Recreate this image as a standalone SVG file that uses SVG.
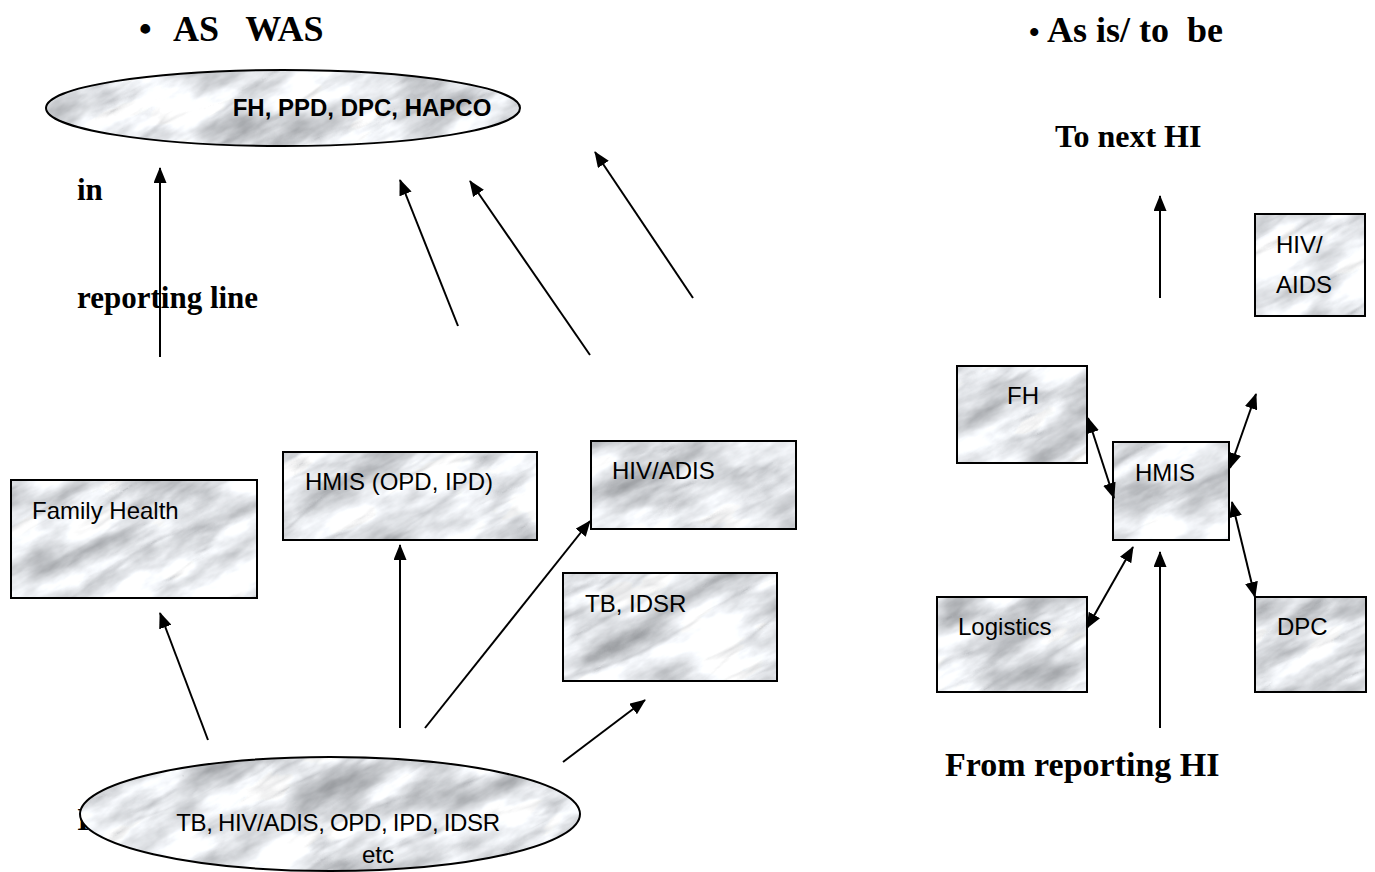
<svg xmlns="http://www.w3.org/2000/svg" width="1375" height="872" viewBox="0 0 1375 872">
  <style>
    .hd { font-family: "Liberation Serif", "Times New Roman", serif; font-weight: bold; fill: #000; }
    .lbl { font-family: "Liberation Sans", Arial, sans-serif; font-size: 24px; fill: #000; }
    .node { fill: url(#marble); stroke: #000; stroke-width: 2; }
    .link { fill: none; stroke: #000; stroke-width: 2; }
  </style>
  <defs>
    <!-- soft grey marble texture used by every box and ellipse -->
    <filter id="marbleFx" x="0" y="0" width="100%" height="100%" color-interpolation-filters="sRGB">
      <feTurbulence type="fractalNoise" baseFrequency="0.012 0.03" numOctaves="5" seed="23" result="n"/>
      <feColorMatrix in="n" type="matrix" values="0.7 0 0 0 0.55  0.7 0 0 0 0.56  0.7 0 0 0 0.575  0 0 0 0 1" result="base"/>
      <feTurbulence type="turbulence" baseFrequency="0.006 0.025" numOctaves="4" seed="5" result="v"/>
      <feColorMatrix in="v" type="matrix" values="0 0 0 0 0.5  0 0 0 0 0.51  0 0 0 0 0.53  -1.4 0 0 0 0.32" result="veins"/>
      <feComposite in="veins" in2="base" operator="over"/>
    </filter>
    <pattern id="marble" patternUnits="userSpaceOnUse" x="0" y="0" width="1375" height="872">
      <g transform="rotate(-28 687 436)">
        <rect x="-500" y="-500" width="2400" height="1900" fill="#fff" filter="url(#marbleFx)"/>
      </g>
    </pattern>
    <marker id="ah" viewBox="0 0 16 13" refX="15" refY="6.5" markerWidth="16" markerHeight="13" markerUnits="userSpaceOnUse" orient="auto-start-reverse">
      <path d="M0,0 L16,6.5 L0,13 z" fill="#000"/>
    </marker>
  </defs>

  <rect width="1375" height="872" fill="#fff"/>

  <!-- headings and free text -->
  <g id="headings">
    <text class="hd" x="139" y="41" font-size="36">•</text>
    <text class="hd" x="173" y="41" font-size="36" xml:space="preserve">AS   WAS</text>
    <text class="hd" x="1029" y="42" font-size="30">•</text>
    <text class="hd" x="1047" y="42" font-size="36" xml:space="preserve">As is/ to  be</text>
    <text class="hd" x="1055" y="147" font-size="32">To next HI</text>
    <text class="hd" x="77" y="200" font-size="31">in</text>
    <text class="hd" x="77" y="308" font-size="31">reporting line</text>
    <text class="hd" x="77" y="830" font-size="31">I</text>
    <text class="hd" x="945" y="776" font-size="34">From reporting HI</text>
  </g>

  <!-- left side: previous reporting structure -->
  <g id="programs-top">
    <ellipse class="node" cx="283" cy="108" rx="237" ry="38"/>
    <text class="lbl" x="362" y="116" font-weight="bold" text-anchor="middle">FH, PPD, DPC, HAPCO</text>
  </g>
  <g id="family-health">
    <rect class="node" x="11" y="480" width="246" height="118"/>
    <text class="lbl" x="32" y="519" font-size="25">Family Health</text>
  </g>
  <g id="hmis-opd-ipd">
    <rect class="node" x="283" y="452" width="254" height="88"/>
    <text class="lbl" x="305" y="490">HMIS (OPD, IPD)</text>
  </g>
  <g id="hiv-adis">
    <rect class="node" x="591" y="441" width="205" height="88"/>
    <text class="lbl" x="612" y="479">HIV/ADIS</text>
  </g>
  <g id="tb-idsr">
    <rect class="node" x="563" y="573" width="214" height="108"/>
    <text class="lbl" x="585" y="612">TB, IDSR</text>
  </g>
  <g id="facility-sources">
    <ellipse class="node" cx="330" cy="814" rx="250" ry="57"/>
    <text class="lbl" x="338" y="831" font-size="22" word-spacing="-1" letter-spacing="-0.3" text-anchor="middle">TB, HIV/ADIS, OPD, IPD, IDSR</text>
    <text class="lbl" x="378" y="863" font-size="22" text-anchor="middle">etc</text>
  </g>

  <!-- right side: integrated structure -->
  <g id="fh">
    <rect class="node" x="957" y="366" width="130" height="97"/>
    <text class="lbl" x="1007" y="404">FH</text>
  </g>
  <g id="hmis">
    <rect class="node" x="1113" y="442" width="116" height="98"/>
    <text class="lbl" x="1135" y="481">HMIS</text>
  </g>
  <g id="hiv-aids">
    <rect class="node" x="1255" y="214" width="110" height="102"/>
    <text class="lbl" x="1276" y="253">HIV/</text>
    <text class="lbl" x="1276" y="293">AIDS</text>
  </g>
  <g id="logistics">
    <rect class="node" x="937" y="597" width="150" height="95"/>
    <text class="lbl" x="958" y="635">Logistics</text>
  </g>
  <g id="dpc">
    <rect class="node" x="1255" y="597" width="111" height="95"/>
    <text class="lbl" x="1277" y="635">DPC</text>
  </g>

  <g id="connectors">
    <line class="link" x1="160" y1="357" x2="160" y2="168" marker-end="url(#ah)"/>
    <line class="link" x1="458" y1="326" x2="400" y2="180" marker-end="url(#ah)"/>
    <line class="link" x1="590" y1="355" x2="470" y2="181" marker-end="url(#ah)"/>
    <line class="link" x1="693" y1="298" x2="595" y2="152" marker-end="url(#ah)"/>
    <line class="link" x1="208" y1="740" x2="160" y2="613" marker-end="url(#ah)"/>
    <line class="link" x1="400" y1="728" x2="400" y2="545" marker-end="url(#ah)"/>
    <line class="link" x1="425" y1="728" x2="590" y2="521" marker-end="url(#ah)"/>
    <line class="link" x1="563" y1="762" x2="645" y2="700" marker-end="url(#ah)"/>

    <line class="link" x1="1160" y1="298" x2="1160" y2="196" marker-end="url(#ah)"/>
    <line class="link" x1="1088" y1="418" x2="1114" y2="498" marker-start="url(#ah)" marker-end="url(#ah)"/>
    <line class="link" x1="1230" y1="468" x2="1256" y2="394" marker-start="url(#ah)" marker-end="url(#ah)"/>
    <line class="link" x1="1087" y1="628" x2="1133" y2="547" marker-start="url(#ah)" marker-end="url(#ah)"/>
    <line class="link" x1="1232" y1="502" x2="1255" y2="597" marker-start="url(#ah)" marker-end="url(#ah)"/>
    <line class="link" x1="1160" y1="728" x2="1160" y2="552" marker-end="url(#ah)"/>
  </g>
</svg>
